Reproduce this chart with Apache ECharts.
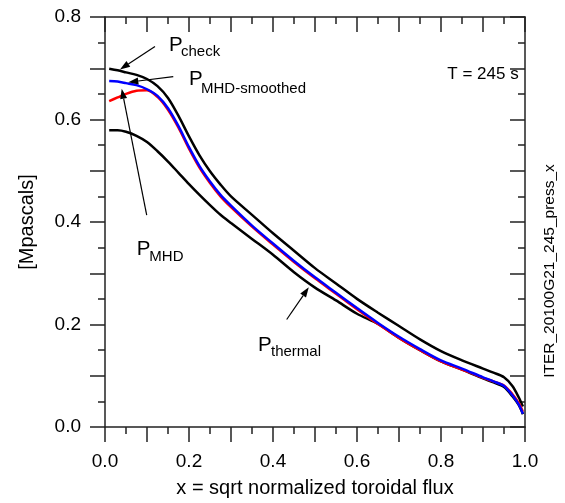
<!DOCTYPE html>
<html>
<head>
<meta charset="utf-8">
<script src="https://cdn.jsdelivr.net/npm/echarts@6/dist/echarts.min.js"></script>
<style>
html,body{margin:0;padding:0;background:#fff;}
#c{width:565px;height:503px;}
</style>
</head>
<body>
<div id="c"></div>
<script>
// ---- data ----
const xs       = [0.01,0.03,0.05,0.075,0.1,0.125,0.15,0.175,0.2,0.225,0.25,0.275,0.3,0.35,0.4,0.45,0.5,0.55,0.6,0.65,0.7,0.75,0.8,0.85,0.9,0.925,0.95,0.97,0.985,0.995];
const pCheck   = [0.699,0.696,0.692,0.687,0.679,0.665,0.642,0.607,0.567,0.530,0.499,0.473,0.450,0.414,0.378,0.344,0.310,0.280,0.250,0.223,0.197,0.171,0.148,0.130,0.114,0.106,0.097,0.080,0.058,0.040];
const pSmooth  = [0.675,0.674,0.671,0.667,0.659,0.646,0.622,0.587,0.546,0.509,0.479,0.453,0.432,0.393,0.358,0.324,0.292,0.262,0.232,0.203,0.176,0.152,0.130,0.114,0.097,0.089,0.080,0.062,0.044,0.026];
const pMHD     = [0.636,0.643,0.650,0.656,0.657,0.644,0.619,0.584,0.543,0.506,0.476,0.450,0.429,0.391,0.356,0.322,0.290,0.260,0.230,0.201,0.174,0.150,0.128,0.112,0.096,0.089,0.081,0.064,0.047,0.030];
const pThermal = [0.579,0.579,0.576,0.568,0.556,0.538,0.518,0.496,0.474,0.453,0.433,0.414,0.398,0.367,0.336,0.302,0.272,0.247,0.221,0.201,0.174,0.150,0.128,0.112,0.095,0.087,0.078,0.060,0.043,0.025];

const xTickLabels = ['0.0','0.2','0.4','0.6','0.8','1.0'];
const yTickLabels = ['0.0','0.2','0.4','0.6','0.8'];

// ---- annotations (in data units) ----
const annoArrows = [
  {tail:[0.119,0.7425],  tip:[0.0357,0.6977]},
  {tail:[0.1626,0.6838], tip:[0.0555,0.6727]},
  {tail:[0.0993,0.4132], tip:[0.0398,0.660]},
  {tail:[0.4326,0.2098], tip:[0.4852,0.2725]}
];
const annoLabels = [
  {main:'P', sub:'check',        at:[0.1524,0.7448], subAt:[0.181,0.7322]},
  {main:'P', sub:'MHD-smoothed', at:[0.200,0.6786],  subAt:[0.2286,0.6592]},
  {main:'P', sub:'MHD',          at:[0.0755,0.3458], subAt:[0.1055,0.3318]},
  {main:'P', sub:'thermal',      at:[0.3643,0.1598], subAt:[0.3952,0.1459]}
];
const timeNote = {text:'T = 245 s', at:[0.9,0.6877]};
const sideNote = 'ITER_20100G21_245_press_x';

const FONT = '"Liberation Sans", Arial, Helvetica, sans-serif';
const pair = (a) => xs.map((x,i)=>[x,a[i]]);
function fmt(list){ return v => { const s = list.find(t => Math.abs(parseFloat(t)-v) < 1e-9); return s === undefined ? '' : s; }; }

const axisLineStyle = {color:'#222', width:1.5};

const chart = echarts.init(document.getElementById('c'), null, {renderer:'canvas'});
const lineBase = {type:'line', showSymbol:false, smooth:0.3};
chart.setOption({
  animation:false,
  backgroundColor:'#fff',
  grid:{left:105, right:40, top:17, bottom:73, containLabel:false},
  xAxis:[
    {type:'value', position:'bottom', min:0, max:1, interval:0.1,
     axisLine:{show:true, onZero:false, lineStyle:axisLineStyle},
     axisTick:{show:true, length:15, inside:false, lineStyle:axisLineStyle},
     minorTick:{show:true, splitNumber:2, length:7, lineStyle:axisLineStyle},
     splitLine:{show:false}, minorSplitLine:{show:false},
     axisLabel:{show:true, formatter:fmt(xTickLabels), fontSize:19, color:'#000', fontFamily:FONT, margin:25, showMinLabel:true, showMaxLabel:true},
     name:'x = sqrt normalized toroidal flux', nameLocation:'middle', nameGap:51,
     nameTextStyle:{fontSize:20, color:'#000', fontFamily:FONT}},
    {type:'value', position:'top', min:0, max:1, interval:0.1,
     axisLine:{show:true, onZero:false, lineStyle:axisLineStyle},
     axisTick:{show:true, length:15, inside:true, lineStyle:axisLineStyle},
     minorTick:{show:true, splitNumber:2, length:7, lineStyle:axisLineStyle},
     splitLine:{show:false}, axisLabel:{show:false}}
  ],
  yAxis:[
    {type:'value', position:'left', min:0, max:0.8, interval:0.1,
     axisLine:{show:true, onZero:false, lineStyle:axisLineStyle},
     axisTick:{show:true, length:15, inside:false, lineStyle:axisLineStyle},
     minorTick:{show:true, splitNumber:2, length:7, lineStyle:axisLineStyle},
     splitLine:{show:false},
     axisLabel:{show:true, formatter:fmt(yTickLabels), fontSize:19, color:'#000', fontFamily:FONT, margin:24, showMinLabel:true, showMaxLabel:true},
     name:'[Mpascals]', nameLocation:'middle', nameGap:68,
     nameTextStyle:{fontSize:20, color:'#000', fontFamily:FONT}},
    {type:'value', position:'right', min:0, max:0.8, interval:0.1,
     axisLine:{show:true, onZero:false, lineStyle:axisLineStyle},
     axisTick:{show:true, length:15, inside:true, lineStyle:axisLineStyle},
     minorTick:{show:true, splitNumber:2, length:7, lineStyle:axisLineStyle},
     splitLine:{show:false}, axisLabel:{show:false}}
  ],
  series:[
    Object.assign({name:'P_thermal', data:pair(pThermal), lineStyle:{color:'#000', width:2.5}, z:2}, lineBase),
    Object.assign({name:'P_check', data:pair(pCheck), lineStyle:{color:'#000', width:2.5}, z:2}, lineBase),
    Object.assign({name:'P_MHD', data:pair(pMHD), lineStyle:{color:'#ff0000', width:2.5}, z:3}, lineBase),
    Object.assign({name:'P_MHD-smoothed', data:pair(pSmooth), lineStyle:{color:'#0000ff', width:2.5}, z:4}, lineBase)
  ]
});

function px(p){ return chart.convertToPixel({xAxisIndex:0, yAxisIndex:0}, p); }
const g = [];
annoArrows.forEach(a => {
  const t = px(a.tail), h = px(a.tip);
  const dx = h[0]-t[0], dy = h[1]-t[1], L = Math.hypot(dx,dy), ux = dx/L, uy = dy/L;
  const hl = 10, hw = 3.5;
  const bx = h[0]-ux*hl, by = h[1]-uy*hl;
  g.push({type:'line', shape:{x1:t[0], y1:t[1], x2:bx, y2:by}, style:{stroke:'#000', lineWidth:1.2}, z:10});
  g.push({type:'polygon', shape:{points:[[h[0],h[1]],[bx-uy*hw, by+ux*hw],[bx+uy*hw, by-ux*hw]]}, style:{fill:'#000'}, z:10});
});
annoLabels.forEach(l => {
  const p = px(l.at), s = px(l.subAt);
  g.push({type:'text', x:p[0], y:p[1], style:{text:l.main, fontSize:20.5, fontFamily:FONT, fill:'#000', align:'left', verticalAlign:'middle'}, z:10});
  g.push({type:'text', x:s[0], y:s[1], style:{text:l.sub, fontSize:15, fontFamily:FONT, fill:'#000', align:'left', verticalAlign:'middle'}, z:10});
});
const tp = px(timeNote.at);
g.push({type:'text', x:tp[0], y:tp[1], style:{text:timeNote.text, fontSize:17, fontFamily:FONT, fill:'#000', align:'center', verticalAlign:'middle'}, z:10});
g.push({type:'text', x:550, y:271, rotation:Math.PI/2, style:{text:sideNote, fontSize:15.5, fontFamily:FONT, fill:'#000', align:'center', verticalAlign:'middle'}, z:10});
chart.setOption({graphic:g});
</script>
</body>
</html>
